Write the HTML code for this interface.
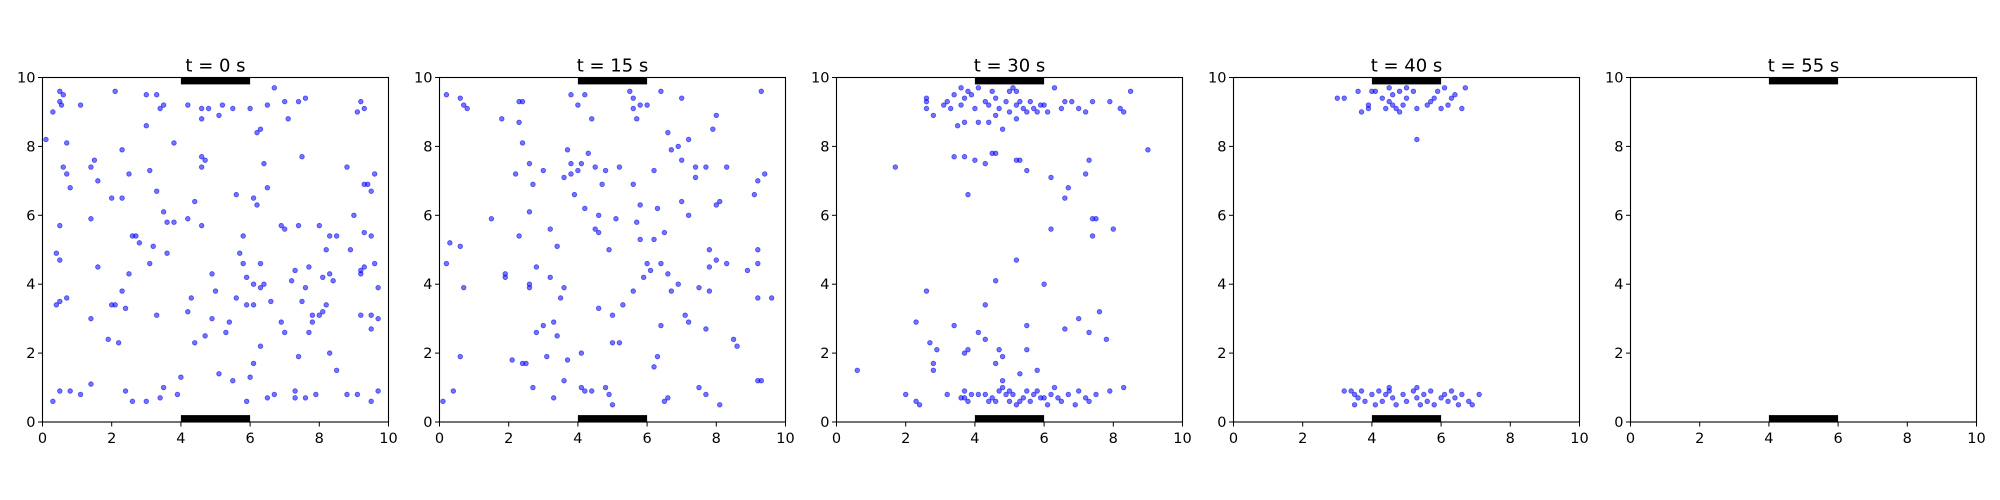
<!DOCTYPE html>
<html><head><meta charset="utf-8">
<style>body{margin:0;background:#fff}svg{display:block;font-family:"DejaVu Sans","Liberation Sans",sans-serif}</style>
</head><body>
<svg id="fig" width="2000" height="500" viewBox="0 0 2000 500"></svg>
<script>
const panelTitles=["t = 0 s","t = 15 s","t = 30 s","t = 40 s","t = 55 s"];
const xTicks=[0,2,4,6,8,10];
const yTicks=[0,2,4,6,8,10];
const barX=[4,6];
const p0=[0.1,8.2,0.5,9.6,0.6,9.5,0.3,9.0,0.5,9.3,0.55,9.2,1.1,9.2,0.7,8.1,2.1,9.6,1.4,7.4,1.5,7.6,0.6,7.4,0.7,7.2,1.6,7.0,0.8,6.8,2.0,6.5,2.3,7.9,2.5,7.2,2.3,6.5,3.0,9.5,3.0,8.6,3.3,9.5,3.4,9.1,3.5,9.2,3.1,7.3,3.3,6.7,3.5,6.1,3.6,5.8,3.8,5.8,3.2,5.1,2.6,5.4,2.7,5.4,2.8,5.2,4.2,9.2,4.6,9.1,4.8,9.1,4.6,8.8,5.1,8.9,4.6,7.7,4.7,7.6,4.6,7.4,4.4,6.4,4.6,5.7,4.2,5.9,2.0,3.4,2.1,3.4,2.4,3.3,1.9,2.4,2.2,2.3,1.4,1.1,0.5,0.9,0.8,0.9,0.3,0.6,1.1,0.8,2.4,0.9,2.6,0.6,3.0,0.6,3.4,0.7,3.5,1.0,3.9,0.8,4.0,1.3,5.1,1.4,5.5,1.2,6.1,1.7,6.5,0.7,6.0,1.3,7.3,0.7,7.3,0.9,7.6,0.7,8.8,0.8,9.1,0.8,9.5,0.6,9.7,0.9,7.9,0.8,6.7,0.8,5.9,0.6,0.4,3.4,0.5,3.5,0.7,3.6,0.4,4.9,0.5,5.7,1.4,3.0,1.6,4.5,2.3,3.8,2.5,4.3,3.3,3.1,3.1,4.6,3.6,4.9,4.2,3.2,4.3,3.6,4.4,2.3,4.7,2.5,5.0,3.8,5.3,2.6,5.4,2.9,5.6,3.6,5.9,3.4,6.1,4.0,6.3,4.6,6.4,4.0,6.1,3.4,6.3,3.9,6.6,3.5,6.3,2.2,6.9,2.9,7.0,2.6,6.2,6.3,6.1,6.5,6.4,7.5,6.5,6.8,6.2,8.4,6.3,8.5,6.5,9.2,6.7,9.7,7.0,9.3,7.4,9.3,7.1,8.8,7.6,9.4,7.5,7.7,6.9,5.7,7.0,5.6,7.4,5.7,7.3,4.4,7.7,4.5,7.5,3.5,7.6,3.9,7.8,3.1,7.8,2.9,7.7,2.6,8.0,3.1,8.1,3.2,8.2,3.4,8.3,4.3,8.4,4.1,8.1,4.2,8.3,5.4,8.2,5.0,8.5,5.4,8.3,2.0,8.8,7.4,9.2,9.3,9.3,9.1,9.1,9.0,9.3,6.9,9.4,6.9,9.5,6.7,9.6,7.2,9.0,6.0,9.3,5.5,9.5,5.4,9.3,4.5,9.2,4.4,9.2,4.3,8.9,5.0,9.6,4.6,9.7,3.9,9.2,3.1,9.5,3.1,9.7,3.0,9.5,2.7,8.0,5.7,7.2,4.1,7.4,1.9,8.5,1.5,5.8,5.4,5.7,4.9,5.8,4.6,5.9,4.2,5.6,6.6,4.9,4.3,4.9,3.0,5.5,9.1,6.0,9.1,5.2,9.2,3.8,8.1,1.4,5.9,0.5,4.7];
const p1=[0.2,9.5,0.6,9.4,0.7,9.2,0.8,9.1,0.2,4.6,0.3,5.2,0.6,5.1,0.7,3.9,0.6,1.9,0.1,0.6,0.4,0.9,1.5,5.9,1.9,4.3,1.9,4.2,1.8,8.8,2.3,8.7,2.3,9.3,2.4,9.3,2.2,7.2,2.4,8.1,2.3,5.4,2.1,1.8,2.4,1.7,2.5,1.7,2.6,3.9,2.6,4.0,2.8,4.5,2.6,6.1,2.7,6.9,2.6,7.5,3.0,7.3,3.2,5.6,3.2,4.2,3.4,5.1,2.8,2.6,3.0,2.8,3.3,2.9,3.4,2.5,3.5,3.6,3.6,3.9,3.1,1.9,3.7,1.8,4.1,2.0,4.1,1.0,2.7,1.0,3.3,0.7,3.6,1.2,4.2,0.9,4.4,0.9,3.6,7.1,3.7,7.9,3.8,7.5,3.8,7.2,4.0,7.3,4.1,7.5,3.9,6.6,4.2,6.2,4.6,6.0,4.3,7.8,4.5,7.4,4.4,8.8,3.8,9.5,4.0,9.2,4.2,9.5,4.8,7.3,4.7,6.9,5.2,7.4,5.1,5.9,4.5,5.6,4.6,5.5,4.9,5.0,4.6,3.3,5.0,3.1,5.3,3.4,5.0,2.3,5.2,2.3,4.9,0.8,5.0,0.5,4.8,1.0,5.5,9.6,5.6,9.4,5.6,9.1,5.8,9.2,6.0,9.2,5.7,8.8,5.6,6.9,5.8,6.3,5.7,5.8,5.8,5.3,6.0,4.6,5.9,4.2,5.6,3.8,6.2,7.3,6.6,8.4,6.7,7.9,6.4,9.6,7.0,9.4,6.9,8.0,7.0,7.6,7.4,7.4,7.0,6.4,6.5,5.5,6.3,6.2,6.2,5.3,6.4,4.6,6.1,4.4,6.6,4.3,6.9,4.0,6.7,3.8,7.1,3.1,7.2,2.9,6.4,2.8,6.3,1.9,6.2,1.6,6.6,0.7,6.5,0.6,7.5,1.0,7.7,0.8,8.1,0.5,7.7,2.7,7.5,3.9,7.8,3.8,7.8,4.5,8.0,4.7,7.8,5.0,8.3,4.6,8.0,6.3,8.1,6.4,7.7,7.4,8.3,7.4,7.9,8.5,8.0,8.9,8.5,2.4,8.6,2.2,8.9,4.4,9.2,4.6,9.2,5.0,9.6,3.6,9.2,3.6,9.2,1.2,9.3,1.2,9.2,7.0,9.4,7.2,9.1,6.6,9.3,9.6,7.2,8.2,7.2,6.0,7.4,7.1];
const p2=[2.6,9.3,2.6,9.4,2.6,9.1,2.8,8.9,3.1,9.2,3.2,9.3,3.3,9.1,3.4,9.5,3.6,9.7,3.7,9.4,3.8,9.6,3.6,9.2,3.9,9.5,4.0,9.1,3.5,8.6,3.7,8.7,4.1,8.7,4.4,9.2,4.5,9.6,4.6,9.4,4.7,9.1,4.9,9.3,5.0,9.6,5.1,9.7,5.2,9.6,5.3,9.3,5.4,9.1,5.2,9.2,5.5,9.0,5.6,9.3,5.7,9.1,5.8,9.0,5.9,9.2,6.0,9.2,6.1,9.0,6.5,9.1,6.6,9.3,6.8,9.3,7.0,9.1,7.2,9.0,7.4,9.3,7.9,9.3,8.2,9.1,8.3,9.0,8.5,9.6,4.1,9.7,4.3,9.3,4.8,8.5,4.6,8.9,5.0,9.0,6.3,9.7,4.4,8.7,5.2,8.8,3.4,7.7,3.7,7.7,4.0,7.6,4.3,7.5,4.5,7.8,4.6,7.8,5.2,7.6,5.3,7.6,5.5,7.3,6.2,7.1,6.7,6.8,6.6,6.5,7.3,7.6,7.2,7.2,7.4,5.9,7.5,5.9,7.4,5.4,8.0,5.6,6.2,5.6,9.0,7.9,1.7,7.4,3.8,6.6,5.2,4.7,4.6,4.1,6.0,4.0,0.6,1.5,2.0,0.8,2.3,0.6,2.4,0.5,2.3,2.9,2.6,3.8,2.7,2.3,2.8,1.7,2.8,1.5,2.9,2.1,3.4,2.8,3.8,2.1,3.7,2.0,4.1,2.6,4.3,2.4,4.3,3.4,4.6,1.7,4.8,1.2,4.7,2.1,4.8,1.9,5.5,2.8,5.5,2.1,5.3,1.4,5.8,1.5,6.6,2.7,7.0,3.0,7.3,2.6,7.6,3.2,7.8,2.4,3.2,0.8,3.6,0.7,3.7,0.9,3.8,0.6,3.9,0.8,4.1,0.8,4.3,0.8,4.5,0.7,4.6,0.6,4.7,0.9,4.9,0.8,5.0,0.6,5.1,0.8,5.2,0.5,5.4,0.7,5.5,0.9,5.6,0.6,5.7,0.8,5.9,0.7,6.1,0.5,6.2,0.8,6.4,0.7,6.5,0.6,6.7,0.8,6.9,0.5,7.0,0.9,7.2,0.7,7.3,0.6,7.5,0.8,7.9,0.9,8.3,1.0,3.7,0.7,4.8,1.0,5.0,0.9,6.3,1.0,6.0,0.7,4.4,0.6,5.3,0.6,5.8,0.9];
const p3=[3.0,9.4,3.2,9.4,3.6,9.6,3.7,9.0,3.9,9.1,3.9,9.2,4.0,9.6,4.1,9.6,4.3,9.4,4.4,9.1,4.5,9.3,4.6,9.5,4.7,9.1,4.8,9.6,4.9,9.2,5.0,9.4,5.0,9.7,5.2,9.6,5.3,9.1,4.6,9.2,4.5,9.7,5.7,9.3,5.8,9.4,5.9,9.6,6.0,9.1,6.1,9.7,6.2,9.2,6.3,9.4,6.4,9.5,6.6,9.1,6.7,9.7,5.6,9.2,4.8,9.0,5.3,8.2,3.2,0.9,3.4,0.9,3.5,0.8,3.6,0.7,3.7,0.9,3.8,0.6,4.0,0.8,4.1,0.5,4.2,0.9,4.3,0.6,4.4,0.8,4.5,0.9,4.6,0.7,4.7,0.5,4.9,0.8,5.0,0.6,5.2,0.9,5.3,0.7,5.4,0.5,5.5,0.8,5.6,0.6,5.7,0.9,5.8,0.5,6.0,0.7,6.1,0.8,6.2,0.6,6.3,0.9,6.4,0.7,6.5,0.5,6.6,0.8,6.8,0.6,6.9,0.5,7.1,0.8,3.5,0.5,4.5,1.0,5.3,1.0];
const p4=[];
const series=[p0,p1,p2,p3,p4];
const NS="http://www.w3.org/2000/svg";
const svg=document.getElementById('fig');
const L0=42.5, STEP=397, W=346, T=77.5, H=344.5;
function mk(t,a,parent){const e=document.createElementNS(NS,t);for(const k in a)e.setAttribute(k,a[k]);(parent||svg).appendChild(e);return e;}
for(let i=0;i<5;i++){
  const left=L0+i*STEP;
  const sx=v=>left+v/10*W, sy=v=>T+H-v/10*H;
  const g=mk('g',{});
  
  
  const pts=series[i];
  for(let k=0;k<pts.length;k+=2){
    const c=mk('circle',{cx:sx(pts[k]),cy:sy(pts[k+1]),r:2.3,fill:'rgba(0,0,255,0.55)',stroke:'rgba(0,0,230,0.6)','stroke-width':0.8},g);
    
    
  }
  const b1=mk('rect',{x:sx(barX[0]),y:sy(10),width:sx(barX[1])-sx(barX[0]),height:sy(9.8)-sy(10),fill:'#000'},g);
  
  
  const b2=mk('rect',{x:sx(barX[0]),y:sy(0.2),width:sx(barX[1])-sx(barX[0]),height:sy(0)-sy(0.2),fill:'#000'},g);
  
  
  const fr=mk('rect',{x:left,y:T,width:W,height:H,fill:'none',stroke:'#000','stroke-width':1.1},g);
  
  
  xTicks.forEach(v=>{
    mk('line',{x1:sx(v),x2:sx(v),y1:T+H,y2:T+H+4.5,stroke:'#000','stroke-width':1},g);
    const t=mk('text',{x:sx(v),y:T+H+21,'font-size':14.5,'text-anchor':'middle',fill:'#000'},g);
    t.textContent=v;
    
    
  });
  yTicks.forEach(v=>{
    mk('line',{x1:left-4.5,x2:left,y1:sy(v),y2:sy(v),stroke:'#000','stroke-width':1},g);
    const t=mk('text',{x:left-7,y:sy(v)+5,'font-size':14.5,'text-anchor':'end',fill:'#000'},g);
    t.textContent=v;
    
    
  });
  const tt=mk('text',{x:left+W/2,y:T-6,'font-size':18,'text-anchor':'middle',fill:'#000'},g);
  tt.textContent=panelTitles[i];
  
  
}
</script>
</body></html>
